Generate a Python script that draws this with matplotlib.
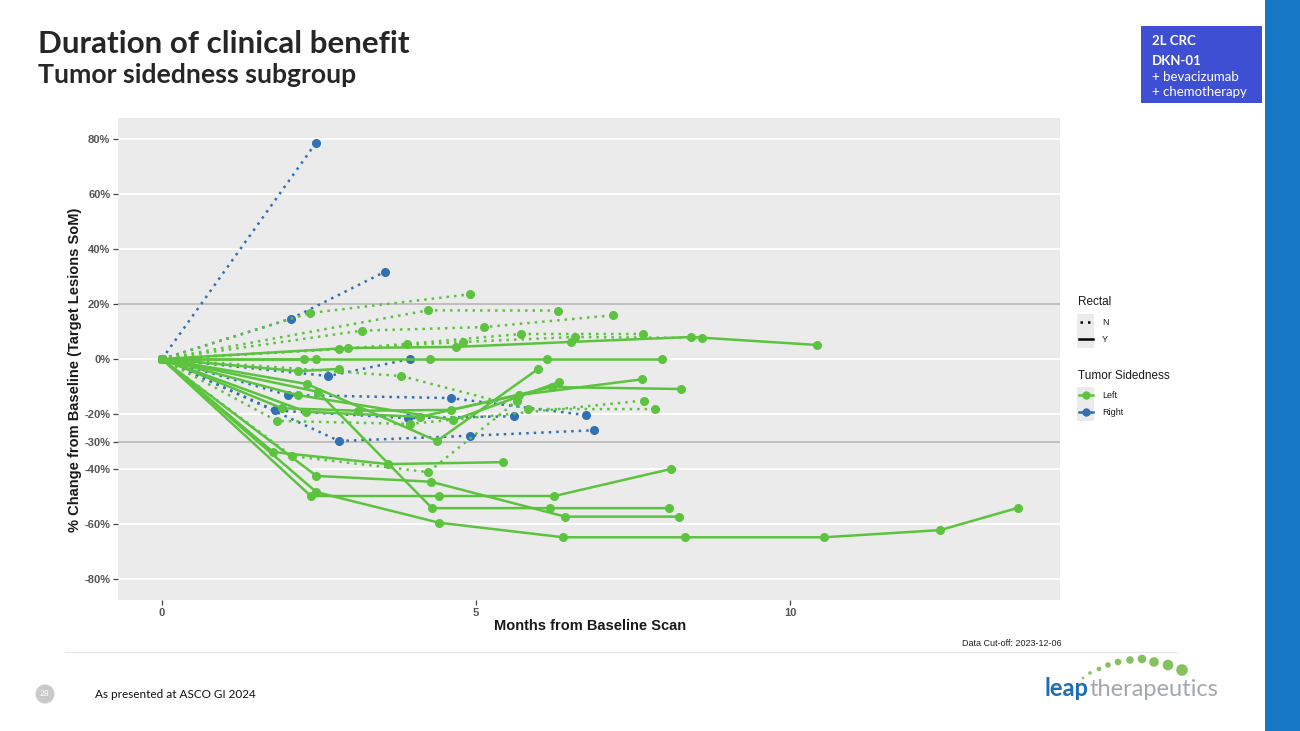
import matplotlib
matplotlib.use("Agg")
import matplotlib.pyplot as plt
from matplotlib.patches import Rectangle, Circle

# --- data (months from baseline, % change SoM) ---
# right-sided tumours, all non-rectal (dotted)
right_n_months = [
    [0, 2.45],
    [0, 2.06, 3.55],
    [0, 2.65, 3.95],
    [0, 2.0, 4.6, 6.75],
    [0, 1.8, 3.91, 5.6],
    [0, 2.82, 4.9, 6.88],
]
right_n_pct = [
    [0, 78.5],
    [0, 14.7, 31.7],
    [0, -6.2, 0.0],
    [0, -13.1, -14.2, -20.4],
    [0, -18.7, -21.5, -20.8],
    [0, -29.8, -27.9, -25.9],
]

# left-sided, non-rectal (dotted)
left_n_months = [
    [0, 2.35, 4.9],
    [0, 4.24, 6.31],
    [0, 3.18, 5.13, 7.18],
    [0, 2.82, 3.90, 5.72, 7.66],
    [0, 4.79, 6.58, 8.6],
    [0, 3.81, 5.83, 7.85],
    [0, 1.83, 3.95, 7.67],
    [0, 2.07, 4.24, 5.65],
]
left_n_pct = [
    [0, 16.7, 23.5],
    [0, 17.7, 17.6],
    [0, 10.3, 11.6, 15.9],
    [0, 3.6, 5.5, 9.1, 9.1],
    [0, 6.2, 8.0, 7.6],
    [0, -6.2, -18.2, -18.2],
    [0, -22.5, -23.6, -15.1],
    [0, -35.3, -41.1, -15.3],
]

# left-sided, rectal (solid)
left_y_months = [
    [0, 2.96, 4.68, 6.51, 8.42, 10.43],
    [0, 2.45, 4.27, 6.13, 7.96],
    [0, 2.26],
    [0, 2.17, 2.82],
    [0, 1.77, 3.6, 5.43],
    [0, 2.46, 4.28, 6.42, 8.23],
    [0, 2.37, 4.41, 6.25, 8.1],
    [0, 2.46, 4.41, 6.39, 8.33, 10.54, 12.39, 13.63],
    [0, 2.48, 4.3, 6.18, 8.07],
    [0, 2.31, 4.38, 5.99],
    [0, 1.91, 3.12, 4.61, 6.21, 8.26],
    [0, 2.16, 4.64, 6.32],
    [0, 2.30, 4.11, 5.68, 7.64],
]
left_y_pct = [
    [0, 4.0, 4.4, 6.2, 8.0, 5.1],
    [0, 0, 0, 0, 0],
    [0, 0],
    [0, -4.4, -3.6],
    [0, -33.8, -38.2, -37.5],
    [0, -42.5, -44.6, -57.3, -57.3],
    [0, -49.8, -49.8, -49.8, -40.0],
    [0, -48.4, -59.5, -64.8, -64.8, -64.8, -62.2, -54.1],
    [0, -11.9, -54.2, -54.2, -54.2],
    [0, -9.1, -29.8, -3.6],
    [0, -17.9, -18.8, -18.5, -10.2, -10.9],
    [0, -13.1, -22.2, -8.4],
    [0, -19.2, -21.0, -13.1, -7.4],
]

y_ticks = [80, 60, 40, 20, 0, -20, -30, -40, -60, -80]
x_ticks = [0, 5, 10]
ref_lines = [20, -30]

GREEN = "#5cc33f"
BLUE = "#3070b3"
DOTS = (0, (1, 2))

W, H = 1300, 731


def fx(px):
    return px / W


def fy(py):
    return 1 - py / H


fig = plt.figure(figsize=(13, 7.31), dpi=100)
fig.patch.set_facecolor("white")

# overlay in pixel units for the slide decoration
ov = fig.add_axes([0, 0, 1, 1])
ov.set_xlim(0, W)
ov.set_ylim(H, 0)
ov.axis("off")

# --- chart panel ---
ax = fig.add_axes([fx(118), fy(600), fx(1060) - fx(118), fy(118) - fy(600)])
ax.set_facecolor("#ebebeb")
for s in ax.spines.values():
    s.set_visible(False)
ax.set_xlim(-0.70, 14.30)
ax.set_ylim(-87.6, 87.6)
ax.set_yticks(y_ticks)
ax.set_yticklabels([f"{t}%" for t in y_ticks])
ax.set_xticks(x_ticks)
ax.grid(axis="y", color="white", lw=1.3)
ax.set_axisbelow(True)
for r in ref_lines:
    ax.axhline(r, color="#b4b4b4", lw=1.2, zorder=1)
ax.tick_params(length=3.5, width=0.9, color="#444444", labelsize=8,
               labelcolor="#555555", pad=2)
for lab in ax.get_xticklabels() + ax.get_yticklabels():
    lab.set_fontweight("bold")
    lab.set_family("Liberation Sans")

for m, p in zip(right_n_months, right_n_pct):
    ax.plot(m, p, color=BLUE, ls=DOTS, lw=1.8, marker="o", ms=5.5, zorder=2)
for m, p in zip(left_n_months, left_n_pct):
    ax.plot(m, p, color=GREEN, ls=DOTS, lw=1.8, marker="o", ms=5.5, zorder=2)
for m, p in zip(left_y_months, left_y_pct):
    ax.plot(m, p, color=GREEN, ls="-", lw=1.8, marker="o", ms=5.5, zorder=3)

fig.text(fx(75), fy(370), "% Change from Baseline (Target Lesions SoM)",
         rotation=90, ha="center", va="center", fontsize=10.5,
         fontweight="bold", family="Liberation Sans", color="#1a1a1a")
fig.text(fx(590), fy(626), "Months from Baseline Scan", ha="center",
         va="center", fontsize=10.5, fontweight="bold",
         family="Liberation Sans", color="#1a1a1a")
fig.text(fx(1062), fy(643), "Data Cut-off: 2023-12-06", ha="right",
         va="center", fontsize=6.5, family="Liberation Sans", color="#222222")

# --- legend, drawn by hand like the ggplot guide ---
def key_box(y):
    ov.add_patch(Rectangle((1077, y - 8.5), 17, 17, color="#ebebeb", lw=0))


fig.text(fx(1078), fy(302), "Rectal", fontsize=8.5, va="center",
         family="Liberation Sans", color="#1a1a1a")
key_box(322)
key_box(339)
ov.plot([1080, 1092], [322, 322], color="black", ls=DOTS, lw=1.8)
ov.plot([1079, 1093], [339, 339], color="black", lw=1.8)
fig.text(fx(1102), fy(322), "N", fontsize=6.5, va="center",
         family="Liberation Sans", color="#1a1a1a")
fig.text(fx(1102), fy(339), "Y", fontsize=6.5, va="center",
         family="Liberation Sans", color="#1a1a1a")

fig.text(fx(1078), fy(376), "Tumor Sidedness", fontsize=8.5, va="center",
         family="Liberation Sans", color="#1a1a1a")
for yy, col, lab in [(395, GREEN, "Left"), (412, BLUE, "Right")]:
    key_box(yy)
    ov.plot([1079, 1093], [yy, yy], color=col, lw=1.8)
    ov.plot([1086], [yy], color=col, marker="o", ms=5)
    fig.text(fx(1102), fy(yy), lab, fontsize=6.5, va="center",
             family="Liberation Sans", color="#1a1a1a")

# --- slide furniture ---
fig.text(fx(38), fy(44), "Duration of clinical benefit", fontsize=22.6,
         fontweight="bold", family="Lato", color="#262626", va="center")
fig.text(fx(38), fy(75), "Tumor sidedness subgroup", fontsize=19.2,
         fontweight="bold", family="Lato", color="#262626", va="center")

ov.add_patch(Rectangle((1141, 26), 121, 77, color="#3f4fd4", lw=0))
fig.text(fx(1152), fy(41), "2L CRC", fontsize=9.5, fontweight="bold",
         family="Lato", color="white", va="center")
fig.text(fx(1152), fy(61), "DKN-01", fontsize=9.5, fontweight="bold",
         family="Lato", color="white", va="center")
fig.text(fx(1152), fy(77), "+ bevacizumab", fontsize=9.5,
         family="Lato", color="white", va="center")
fig.text(fx(1152), fy(92), "+ chemotherapy", fontsize=9.5,
         family="Lato", color="white", va="center")

ov.add_patch(Rectangle((1265, 0), 35, H, color="#1677c4", lw=0))

ov.plot([65, 1177], [652, 652], color="#e6e6e6", lw=1.0)

ov.add_patch(Circle((45, 694), 9.5, color="#c9c9c9", lw=0))
fig.text(fx(45), fy(694), "28", fontsize=6, color="white", ha="center",
         va="center", family="Lato")
fig.text(fx(95), fy(694), "As presented at ASCO GI 2024", fontsize=8.5,
         family="Lato", color="#111111", va="center")

# logo
renderer = fig.canvas.get_renderer()
t1 = fig.text(fx(1045), fy(696), "leap", fontsize=17, fontweight="bold",
              family="Lato", color="#1f6db3", va="baseline")
bb = t1.get_window_extent(renderer)
fig.text(bb.x1 / W + 0.0004, fy(696), "therapeutics", fontsize=17,
         family="Lato", color="#a3a8ad", va="baseline")
dot_x = [1079, 1083, 1090, 1099, 1108, 1118, 1130, 1142, 1154, 1168, 1182]
dot_y = [684, 678, 673, 669, 665, 662, 660, 659, 662, 665, 670]
dot_r = [0.8, 1.3, 1.8, 2.3, 2.8, 3.3, 3.8, 4.3, 4.8, 5.3, 5.8]
for x, y, r in zip(dot_x, dot_y, dot_r):
    ov.add_patch(Circle((x, y), r, color="#86c160", lw=0))

fig.savefig("out.png", dpi=100)
